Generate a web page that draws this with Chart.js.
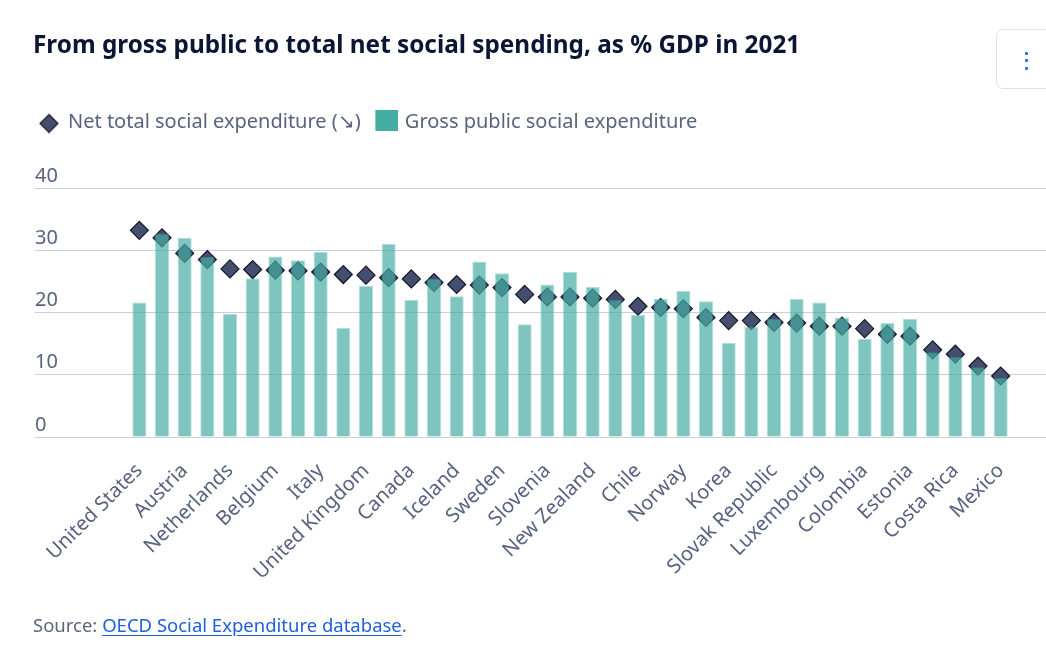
<!DOCTYPE html>
<html>
<head>
<meta charset="utf-8">
<script src="https://cdn.jsdelivr.net/npm/chart.js@4.4.1/dist/chart.umd.min.js"></script>
<style>
  html, body { margin:0; padding:0; background:#fff; width:1046px; height:669px; overflow:hidden; font-family:'Noto Sans', sans-serif; }
  #wrap { position:relative; width:1046px; height:669px; }
  #c { position:absolute; left:0; top:0; z-index:1; }
  #title { position:absolute; left:33px; top:27px; font-size:24.3px; line-height:34px; font-weight:700; color:#0b1634; white-space:nowrap; z-index:2; }
  #src { position:absolute; left:33px; top:612px; font-size:18.5px; line-height:26px; color:#5c6680; white-space:nowrap; z-index:2; }
  #src a { color:#1f5fe0; text-decoration:underline; text-underline-offset:3px; }
  #menu { position:absolute; left:996px; top:29px; width:70px; height:60px; border:1px solid #dde1e8; border-radius:7px; box-sizing:border-box; z-index:2; }
  .dot { position:absolute; left:28px; width:3px; height:3px; border-radius:1px; background:#2f6bde; }
</style>
</head>
<body>
<div id="wrap">
  <canvas id="c" width="1046" height="669"></canvas>
  <div id="title">From gross public to total net social spending, as % GDP in 2021</div>
  <div id="menu"><div class="dot" style="top:21.5px"></div><div class="dot" style="top:29px"></div><div class="dot" style="top:36.5px"></div></div>
  <div id="src">Source: <a href="#">OECD Social Expenditure database</a>.</div>
</div>
<script>
// ---- Data ----
const countries = ["United States","France","Austria","Germany","Netherlands","Japan","Belgium","Denmark","Italy","Switzerland","United Kingdom","Finland","Canada","Portugal","Iceland","Spain","Sweden","Australia","Slovenia","Greece","New Zealand","OECD","Chile","Czech Republic","Norway","Israel","Korea","Lithuania","Slovak Republic","Hungary","Luxembourg","Latvia","Colombia","Poland","Estonia","Ireland","Costa Rica","Türkiye","Mexico"];
const netTotal = [33.2,32.0,29.5,28.5,27.0,26.9,26.8,26.7,26.5,26.1,26.0,25.6,25.4,24.8,24.5,24.4,24.0,22.9,22.5,22.5,22.3,22.1,21.0,20.8,20.6,19.2,18.7,18.7,18.4,18.3,17.8,17.8,17.4,16.5,16.2,14.0,13.3,11.4,9.8];
const grossPublic = [21.6,32.7,32.0,28.9,19.8,25.5,29.0,28.4,29.7,17.5,24.3,31.0,22.0,25.4,22.6,28.2,26.3,18.1,24.5,26.5,24.1,22.0,19.6,22.2,23.5,21.8,15.1,17.7,19.0,22.2,21.6,19.2,15.8,18.3,19.0,13.6,12.9,11.2,9.5];
const yTicks = [0,10,20,30,40];
const seriesNames = ["Net total social expenditure (\u2198)", "Gross public social expenditure"];

const TEXT = '#586380';
const GRID = '#c9cedb';
const NAVY = '#444e6f';
const TEAL = '#46ada3';

Chart.defaults.font.family = "'Noto Sans', sans-serif";

function diamondMarker() {
  const c = document.createElement('canvas'); c.width = 22; c.height = 23;
  const g = c.getContext('2d');
  const cx = 12, cy = 13, r = 9;
  g.beginPath(); g.moveTo(cx, cy - r); g.lineTo(cx + r, cy); g.lineTo(cx, cy + r); g.lineTo(cx - r, cy); g.closePath();
  g.fillStyle = NAVY; g.fill(); g.lineWidth = 1.2; g.strokeStyle = '#15182a'; g.stroke();
  return c;
}
function squareMarker() {
  const c = document.createElement('canvas'); c.width = 27; c.height = 24;
  const g = c.getContext('2d');
  g.fillStyle = TEAL; g.fillRect(4, 0, 23, 21);
  return c;
}
const dm = diamondMarker(), sq = squareMarker();

new Chart(document.getElementById('c'), {
  data: {
    labels: countries,
    datasets: [
      { type:'line', label: seriesNames[0], data: netTotal, showLine:false, order:2,
        pointStyle:'rectRot', pointRadius:9, pointHoverRadius:9,
        pointBackgroundColor:NAVY, pointBorderColor:'#15182a', pointBorderWidth:1.2,
        backgroundColor:NAVY, borderColor:'#15182a', xAxisID:'x', yAxisID:'y' },
      { type:'bar', label: seriesNames[1], data: grossPublic, order:1,
        backgroundColor:'rgba(70,173,163,0.7)', borderColor:'rgba(70,173,163,0.42)', borderWidth:1,
        barPercentage:0.62, categoryPercentage:1, xAxisID:'x', yAxisID:'y' }
    ]
  },
  options: {
    responsive:false, animation:false, events:[],
    layout: { padding: { left:24, top:98, right:0, bottom:0 } },
    plugins: {
      title: { display:false },
      tooltip: { enabled:false },
      legend: {
        display:true, position:'top', align:'start',
        labels: {
          usePointStyle:true, pointStyleWidth:20, padding:14, color:TEXT,
          font:{ size:20 },
          sort:(a,b) => a.datasetIndex - b.datasetIndex,
          generateLabels(chart) {
            const items = Chart.defaults.plugins.legend.labels.generateLabels(chart);
            items.forEach(it => { it.pointStyle = it.datasetIndex === 0 ? dm : sq; });
            return items;
          }
        }
      }
    },
    scales: {
      x: { type:'category', position:'bottom', offset:true,
           grid:{ display:false }, border:{ display:false },
           ticks:{ autoSkip:false, minRotation:45, maxRotation:45, color:TEXT, font:{ size:20 }, padding:14,
                   callback:(v,i) => (i % 2 === 0 ? countries[i] : '') },
           afterFit(s){ s.height = 232; } },
      xPad: { type:'category', position:'top', display:true,
              grid:{ display:false }, border:{ display:false }, ticks:{ display:false },
              afterFit(s){ s.height = 46; } },
      yPad: { type:'linear', position:'left', weight:10, display:true,
              grid:{ display:false }, border:{ display:false }, ticks:{ display:false },
              afterFit(s){ s.width = 11; } },
      y: { type:'linear', position:'left', weight:0, min:yTicks[0], max:yTicks[yTicks.length-1],
           afterBuildTicks(s){ s.ticks = yTicks.map(v => ({ value:v })); },
           ticks:{ crossAlign:'far', labelOffset:-12, color:TEXT, font:{ size:20 }, padding:0 },
           grid:{ color:GRID, lineWidth:1, drawTicks:true, tickLength:93 },
           border:{ display:false },
           afterFit(s){ s.width = 93; } },
      y2: { type:'linear', position:'right', min:yTicks[0], max:yTicks[yTicks.length-1],
            afterBuildTicks(s){ s.ticks = yTicks.map(v => ({ value:v })); },
            ticks:{ display:false },
            grid:{ color:GRID, lineWidth:1, drawOnChartArea:false, drawTicks:true, tickLength:34 },
            border:{ display:false },
            afterFit(s){ s.width = 34; } }
    }
  }
});
</script>
</body>
</html>
